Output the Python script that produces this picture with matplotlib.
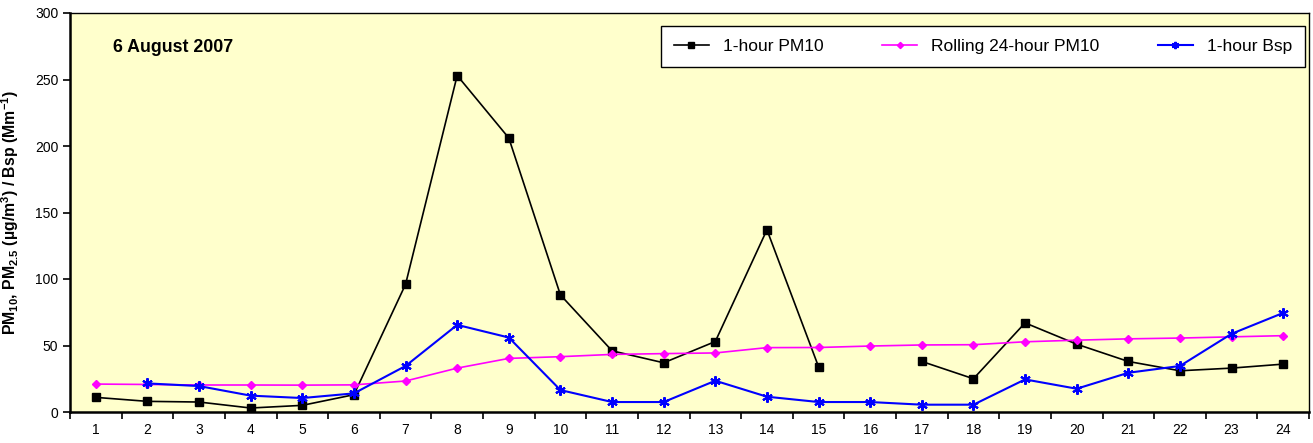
import numpy as np
import matplotlib.pyplot as plt

plt.rcParams['font.family'] = ['Liberation Sans', 'DejaVu Sans']
plt.rcParams['mathtext.fontset'] = 'custom'
plt.rcParams['mathtext.rm'] = 'Liberation Sans:bold'
plt.rcParams['mathtext.default'] = 'rm'

# Data
hours = np.arange(1, 25)
pm10_1h = [11, 8, 7.5, 3, 5, 13, 96, 253, 206, 88, 46, 37, 53, 137, 34,
           np.nan, 38, 25, 67, 51, 38, 31, 33, 36]
pm10_24h = [21, 20.7, 20.3, 20.3, 20.2, 20.4, 23.3, 33, 40.3, 41.6, 43.3, 43.9,
            44.4, 48.4, 48.5, 49.6, 50.4, 50.6, 52.8, 54, 55, 55.6, 56.5, 57.4]
bsp_1h = [np.nan, 21.5, 19.5, 12.3, 10.5, 14, 34.6, 65.5, 56, 16.5, 7.5, 7.5,
          23.5, 11.5, 7.5, 7.5, 5.5, 5.5, 24.5, 17.5, 29.5, 34.6, 58.8, 74.5]
legend_labels = ['1-hour PM10', 'Rolling 24-hour PM10', '1-hour Bsp']

W, H = 1313, 443
fig = plt.figure(figsize=(W / 100, H / 100), dpi=100)
ax = fig.add_axes([70 / W, 31 / H, 1239 / W, 399 / H])
ax.set_facecolor('#FFFFCC')

ax.plot(hours, pm10_1h, color='black', lw=1.2, marker='s', ms=6,
        label=legend_labels[0])
ax.plot(hours, pm10_24h, color='#FF00FF', lw=1.2, marker='D', ms=4.5,
        label=legend_labels[1])
ax.plot(hours, bsp_1h, color='#0000FF', lw=1.5, marker=(6, 2, 0), ms=7.5,
        mew=1.5, label=legend_labels[2])

ax.set_xlim(0.5, 24.5)
ax.set_ylim(0, 300)
ax.set_yticks(np.arange(0, 301, 50))
ax.set_xticks(np.arange(0.5, 25, 1))
ax.set_xticklabels([])
ax.set_xticks(hours, minor=True)
ax.set_xticklabels([str(h) for h in hours], minor=True)
ax.tick_params(axis='x', which='minor', length=0, pad=8, labelsize=10)
ax.tick_params(axis='x', which='major', length=5, width=1.2, direction='out')
ax.tick_params(axis='y', length=5, width=1.2, direction='out', labelsize=10)

for s in ['left', 'bottom']:
    ax.spines[s].set_linewidth(1.8)
for s in ['top', 'right']:
    ax.spines[s].set_linewidth(1)

ax.set_ylabel(r'PM$_{10}$, PM$_{2.5}$ (µg/m$^3$) / Bsp (Mm$^{-1}$)',
              fontsize=11.4, fontweight='bold', labelpad=10)

ax.text(113 / W, 1 - 47 / H, '6 August 2007', transform=fig.transFigure,
        fontsize=12.8, fontweight='bold', va='center')

leg = ax.legend(loc='upper right', bbox_to_anchor=(1305 / W, 1 - 26 / H),
                bbox_transform=fig.transFigure, borderaxespad=0, ncol=3,
                frameon=True, fancybox=False, fontsize=12.5, handlelength=2.0,
                handletextpad=0.8, columnspacing=3.4, borderpad=0.75,
                markerscale=0.7)
leg.get_frame().set_edgecolor('black')
leg.get_frame().set_facecolor('white')
leg.get_frame().set_alpha(1)
leg.get_frame().set_linewidth(1)

fig.savefig('out.png', dpi=100)
